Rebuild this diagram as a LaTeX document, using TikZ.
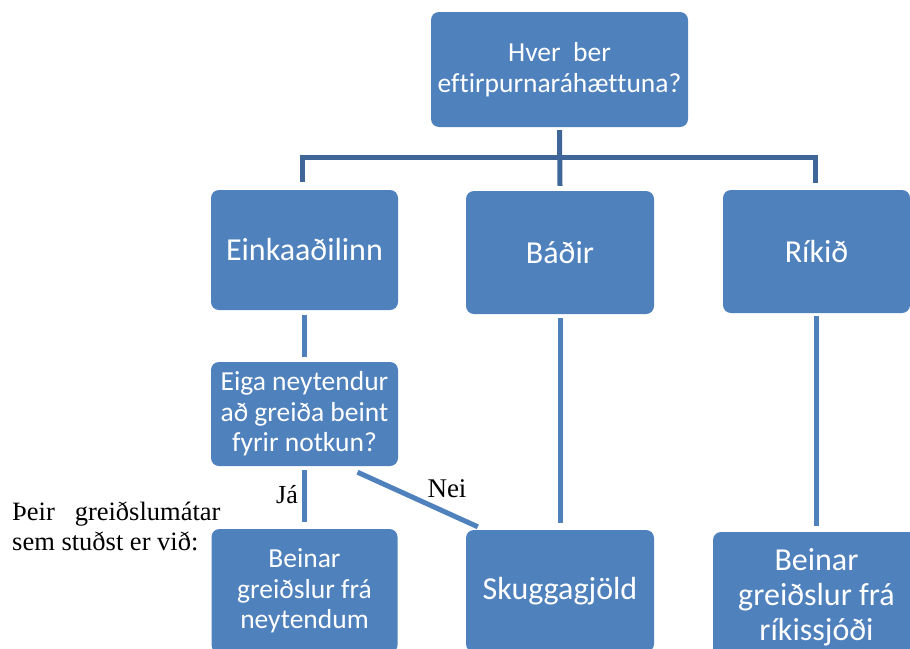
\documentclass[tikz,border=0pt]{standalone}
\usepackage{fontspec}
\setmainfont{Liberation Serif}
\newfontfamily\boxfont[Ligatures=NoCommon]{Carlito}
\usepackage{tikz}
\usetikzlibrary{positioning,calc}
\definecolor{boxblue}{RGB}{79,129,189}
\definecolor{barblue}{RGB}{62,102,152}

\begin{document}
\begin{tikzpicture}[x=1pt,y=-1pt,
  box/.style={draw=none,fill=boxblue,rounded corners=8pt,text=white,align=center,inner sep=0pt},
  bigtext/.style={font=\boxfont\fontsize{32}{35}\selectfont},
  smalltext/.style={font=\boxfont\fontsize{27.5}{30.5}\selectfont},
  trunk/.style={draw=barblue,line width=5pt},
  link/.style={draw=boxblue,line width=5pt},
  serif/.style={font=\fontsize{26.5}{30}\selectfont,inner sep=0pt}]
\useasboundingbox (0,0) rectangle (910,648);
% question at the top, three answers below
\node[box,smalltext,minimum width=257pt,minimum height=115pt] (top) at (559.5,69.5) {Hver\ \ ber\\eftirpurnaráhættuna?};
\node[box,bigtext,minimum width=187pt,minimum height=120pt] (eink) at (304.5,250) {Einkaaðilinn};
\node[box,bigtext,minimum width=188pt,minimum height=123pt] (badir) at (560,252.5) {Báðir};
\node[box,bigtext,minimum width=187pt,minimum height=123pt] (rikid) at (816.5,251.5) {Ríkið};
\node[box,smalltext,minimum width=187pt,minimum height=104pt] (eiga) at (304.5,414) {Eiga neytendur\\að greiða beint\\fyrir notkun?};
% bottom row (cut by the page edge)
\node[box,smalltext,minimum width=186pt,minimum height=124pt] (bein1) at (304.5,591) {Beinar\\greiðslur frá\\neytendum};
\node[box,bigtext,minimum width=207pt,minimum height=130pt] (bein3) at (816.5,597) {Beinar\\greiðslur frá\\ríkissjóði};
\node[box,bigtext,minimum width=188pt,minimum height=122pt] (skugga) at (560,591) {Skuggagjöld};
\node[serif,anchor=north west,align=left] (note) at (12,502) {Þeir\ \ \ greiðslumátar\\sem stuðst er við:};
% connectors
\draw[trunk] ([xshift=-2pt,yshift=8pt]eink.north) |- ([yshift=-30pt]top.south) -| ([xshift=-1pt,yshift=7pt]rikid.north);
\draw[trunk] ([yshift=-3pt]top.south) -- ([yshift=5pt]badir.north);
\draw[link,shorten <=5pt,shorten >=5pt] (eink) -- (eiga);
\draw[link,shorten <=4pt,shorten >=7pt] (eiga) -- (bein1);
\draw[link] ([xshift=53pt,yshift=-6pt]eiga.south) -- ([xshift=12pt,yshift=3pt]skugga.north west);
\draw[link,shorten <=4pt,shorten >=7pt] (badir) -- (skugga);
\draw[link,shorten <=3pt,shorten >=6pt] (rikid) -- (bein3);
\node[serif,font=\fontsize{26}{30}\selectfont] (ja) at (287,495) {Já};
\node[serif,font=\fontsize{27}{30}\selectfont] (nei) at (447,489) {Nei};
\end{tikzpicture}
\end{document}
